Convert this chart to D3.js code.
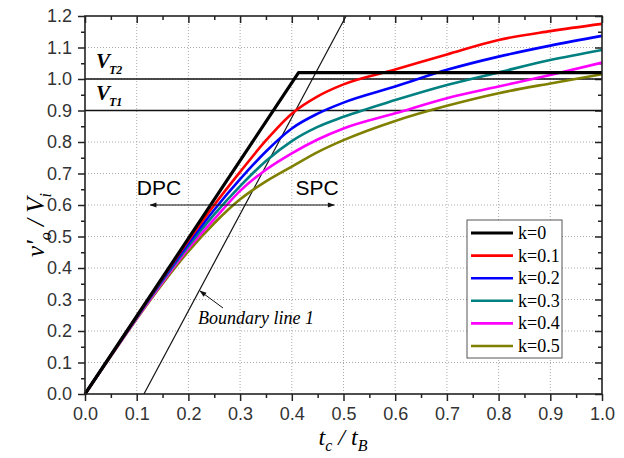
<!DOCTYPE html>
<meta charset="utf-8">
<style>
    body { margin: 0; background: #fff; }
    .container { width: 624px; height: 458px; }
    .tick text { font-family: "Liberation Sans", Arial, sans-serif; font-size: 18px; fill: #333; }
    .grid line { stroke: #aaa; stroke-dasharray: 1,2; }
    .serif { font-family: "Liberation Serif", "Times New Roman", serif; }
</style>
<body>

<div class="container"></div>

<script src="https://cdn.jsdelivr.net/npm/d3@7"></script>
<script>

// x values (t_c / t_B) where the curves were read
const xs = [0, 0.05, 0.1, 0.15, 0.2, 0.25, 0.3, 0.35, 0.4, 0.45, 0.5, 0.6, 0.7, 0.8, 0.9, 1.0];

// v'o / Vi for each k
const k01 = [0, 0.123, 0.246, 0.368, 0.487, 0.600, 0.705, 0.805, 0.890, 0.945, 0.983, 1.030, 1.078, 1.124, 1.152, 1.175];
const k02 = [0, 0.123, 0.245, 0.364, 0.478, 0.585, 0.682, 0.770, 0.843, 0.890, 0.925, 0.976, 1.029, 1.071, 1.106, 1.137];
const k03 = [0, 0.122, 0.243, 0.360, 0.470, 0.570, 0.660, 0.740, 0.803, 0.848, 0.880, 0.933, 0.981, 1.021, 1.060, 1.092];
const k04 = [0, 0.121, 0.240, 0.355, 0.462, 0.555, 0.645, 0.712, 0.764, 0.808, 0.843, 0.891, 0.939, 0.976, 1.013, 1.052];
const k05 = [0, 0.120, 0.238, 0.350, 0.453, 0.542, 0.618, 0.675, 0.722, 0.768, 0.806, 0.867, 0.915, 0.955, 0.986, 1.015];

// k = 0: linear rise then flat
const k0x = [0, 0.413, 1.0];
const k0y = [0, 1.02, 1.02];

// boundary line 1 end points
const boundX = [0.114, 0.505];
const boundY = [0, 1.2];

// threshold levels
const vtLevels = [1.0, 0.9];

const kLabels = ['k=0', 'k=0.1', 'k=0.2', 'k=0.3', 'k=0.4', 'k=0.5'];
const xTicks = [0, 0.1, 0.2, 0.3, 0.4, 0.5, 0.6, 0.7, 0.8, 0.9, 1.0];
const yTicks = [0, 0.1, 0.2, 0.3, 0.4, 0.5, 0.6, 0.7, 0.8, 0.9, 1.0, 1.1, 1.2];

const colors = ['#000000', '#ff0000', '#0000ff', '#008080', '#ff00ff', '#808000'];

const width = 624, height = 458;
const svg = d3.select('.container').append('svg')
    .attr('width', width).attr('height', height);

const x = d3.scaleLinear().domain([0, 1]).range([85, 602]);
const y = d3.scaleLinear().domain([0, 1.2]).range([394, 16]);

const xMinor = xTicks.slice(1).map(d => d - 0.05);
const yMinor = yTicks.slice(1).map(d => d - 0.05);

// grid
svg.append('g').attr('class', 'grid')
    .selectAll('line.gx').data(xTicks.slice(1, -1)).enter().append('line')
    .attr('x1', d => x(d)).attr('x2', d => x(d)).attr('y1', y(0)).attr('y2', y(1.2));
svg.append('g').attr('class', 'grid')
    .selectAll('line.gy').data(yTicks.slice(1, -1)).enter().append('line')
    .attr('y1', d => y(d)).attr('y2', d => y(d)).attr('x1', x(0)).attr('x2', x(1));

// axes
const fmt = d3.format('.1f');
const axisStyle = g => {
    g.select('.domain').remove();
    g.selectAll('.tick line').attr('stroke', '#222').attr('stroke-width', 1.5);
};
svg.append('g').attr('transform', `translate(0,${y(0)})`)
    .call(d3.axisBottom(x).tickValues(xTicks).tickFormat(fmt).tickSize(7).tickPadding(6)).call(axisStyle);
svg.append('g').attr('transform', `translate(0,${y(0)})`)
    .call(d3.axisBottom(x).tickValues(xMinor).tickFormat('').tickSize(4)).call(axisStyle);
svg.append('g').attr('transform', `translate(${x(0)},0)`)
    .call(d3.axisLeft(y).tickValues(yTicks).tickFormat(fmt).tickSize(7).tickPadding(6)).call(axisStyle);
svg.append('g').attr('transform', `translate(${x(0)},0)`)
    .call(d3.axisLeft(y).tickValues(yMinor).tickFormat('').tickSize(4)).call(axisStyle);
// mirrored ticks inside on top and right
svg.append('g').attr('transform', `translate(0,${y(1.2)})`)
    .call(d3.axisBottom(x).tickValues(xTicks).tickFormat('').tickSize(7)).call(axisStyle);
svg.append('g').attr('transform', `translate(0,${y(1.2)})`)
    .call(d3.axisBottom(x).tickValues(xMinor).tickFormat('').tickSize(4)).call(axisStyle);
svg.append('g').attr('transform', `translate(${x(1)},0)`)
    .call(d3.axisLeft(y).tickValues(yTicks).tickFormat('').tickSize(7)).call(axisStyle);
svg.append('g').attr('transform', `translate(${x(1)},0)`)
    .call(d3.axisLeft(y).tickValues(yMinor).tickFormat('').tickSize(4)).call(axisStyle);

// threshold lines
svg.selectAll('line.vt').data(vtLevels).enter().append('line')
    .attr('x1', x(0)).attr('x2', x(1))
    .attr('y1', d => y(d)).attr('y2', d => y(d))
    .attr('stroke', '#111').attr('stroke-width', 1.6);

// boundary line
svg.append('line')
    .attr('x1', x(boundX[0])).attr('y1', y(boundY[0]))
    .attr('x2', x(boundX[1])).attr('y2', y(boundY[1]))
    .attr('stroke', '#111').attr('stroke-width', 1.2);

// curves
const series = [k01, k02, k03, k04, k05];
const line = d3.line().x(d => x(d[0])).y(d => y(d[1])).curve(d3.curveMonotoneX);
series.slice().reverse().forEach((vals, j) => {
    const i = series.length - j;
    svg.append('path')
        .datum(xs.map((v, n) => [v, vals[n]]))
        .attr('d', line)
        .attr('fill', 'none')
        .attr('stroke', colors[i])
        .attr('stroke-width', 2.6);
});
svg.append('path')
    .datum(k0x.map((v, n) => [v, k0y[n]]))
    .attr('d', d3.line().x(d => x(d[0])).y(d => y(d[1])))
    .attr('fill', 'none').attr('stroke', colors[0]).attr('stroke-width', 3.2)
    .attr('stroke-linejoin', 'round');

// frame
svg.append('rect')
    .attr('x', x(0)).attr('y', y(1.2))
    .attr('width', x(1) - x(0)).attr('height', y(0) - y(1.2))
    .attr('fill', 'none').attr('stroke', '#222').attr('stroke-width', 1.6);

// arrow markers
const defs = svg.append('defs');
defs.append('marker').attr('id', 'ah').attr('viewBox', '0 0 10 10')
    .attr('refX', 9).attr('refY', 5).attr('markerWidth', 9).attr('markerHeight', 7)
    .attr('orient', 'auto-start-reverse').attr('markerUnits', 'userSpaceOnUse')
    .append('path').attr('d', 'M0,1.5 L10,5 L0,8.5 Z').attr('fill', '#111');

// DPC / SPC arrow at 0.6
svg.append('line')
    .attr('x1', x(0.126)).attr('x2', x(0.482))
    .attr('y1', y(0.6)).attr('y2', y(0.6))
    .attr('stroke', '#111').attr('stroke-width', 1.2)
    .attr('marker-start', 'url(#ah)').attr('marker-end', 'url(#ah)');
svg.append('text').attr('x', 159).attr('y', 195).attr('text-anchor', 'middle')
    .style('font-family', '"Liberation Sans", Arial, sans-serif').style('font-size', '21px')
    .text('DPC');
svg.append('text').attr('x', 317).attr('y', 195).attr('text-anchor', 'middle')
    .style('font-family', '"Liberation Sans", Arial, sans-serif').style('font-size', '21px')
    .text('SPC');

// boundary label
svg.append('line')
    .attr('x1', 223).attr('y1', 308).attr('x2', 200).attr('y2', 291)
    .attr('stroke', '#111').attr('stroke-width', 1)
    .attr('marker-end', 'url(#ah)');
svg.append('text').attr('class', 'serif').attr('x', 198).attr('y', 324)
    .style('font-size', '18px').style('font-style', 'italic')
    .text('Boundary line 1');

// VT labels
const vtLabel = (yy, sub) => {
    const t = svg.append('text').attr('class', 'serif').attr('x', 96).attr('y', yy)
        .style('font-style', 'italic').style('font-weight', 'bold');
    t.append('tspan').style('font-size', '21px').text('V');
    t.append('tspan').style('font-size', '12px').attr('dy', 6).attr('dx', -1).text(sub);
};
vtLabel(68, 'T2');
vtLabel(100, 'T1');

// axis titles
const xt = svg.append('text').attr('class', 'serif').attr('x', 343).attr('y', 445)
    .attr('text-anchor', 'middle').style('font-style', 'italic').style('font-size', '24px');
xt.append('tspan').text('t');
xt.append('tspan').style('font-size', '16px').attr('dy', 6).text('c');
xt.append('tspan').attr('dy', -6).text(' / t');
xt.append('tspan').style('font-size', '16px').attr('dy', 6).text('B');

const yt = svg.append('text').attr('class', 'serif')
    .attr('transform', 'translate(44,225) rotate(-90)')
    .attr('text-anchor', 'middle').style('font-style', 'italic').style('font-size', '25px');
yt.append('tspan').text('v\u2032');
yt.append('tspan').style('font-size', '16px').attr('dy', 7).text('o');
yt.append('tspan').attr('dy', -7).text(' / V');
yt.append('tspan').style('font-size', '16px').attr('dy', 7).text('i');

// legend
const lg = svg.append('g');
lg.append('rect').attr('x', 467).attr('y', 220).attr('width', 95).attr('height', 138)
    .attr('fill', '#fff').attr('stroke', '#555').attr('stroke-width', 1);
const rows = lg.selectAll('g.row').data(kLabels).enter().append('g')
    .attr('transform', (d, i) => `translate(0,${233 + i * 22.6})`);
rows.append('line').attr('x1', 471).attr('x2', 513).attr('y1', 0).attr('y2', 0)
    .attr('stroke', (d, i) => colors[i]).attr('stroke-width', (d, i) => i === 0 ? 3.2 : 2.6);
rows.append('text').attr('class', 'serif').attr('x', 518).attr('y', 6)
    .style('font-size', '18px').text(d => d);

</script>
</body>
